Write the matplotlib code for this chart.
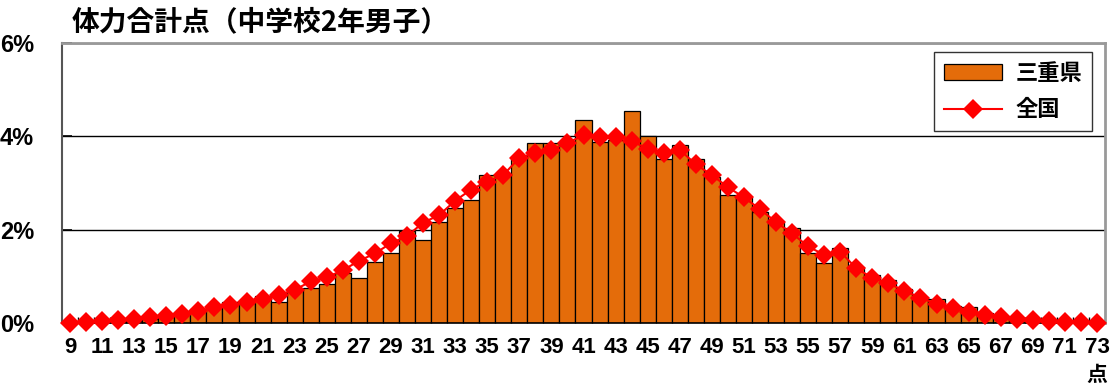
import matplotlib
matplotlib.use("Agg")
import matplotlib.pyplot as plt
from matplotlib.lines import Line2D
from matplotlib.patches import Patch

plt.rcParams['font.family'] = ['Noto Sans CJK JP', 'DejaVu Sans']

title = "体力合計点（中学校2年男子）"
scores = list(range(9, 74))
mie = [0.0, 0.01, 0.02, 0.03, 0.05, 0.08, 0.12, 0.23, 0.29, 0.33, 0.44, 0.43, 0.58, 0.46, 0.72, 0.74,
       0.83, 1.08, 0.97, 1.31, 1.51, 1.97, 1.77, 2.17, 2.46, 2.64, 3.17, 3.15, 3.56, 3.86, 3.85,
       3.85, 4.35, 3.88, 3.92, 4.55, 4.0, 3.51, 3.81, 3.51, 3.12, 2.74, 2.71, 2.38, 2.17, 2.04,
       1.49, 1.28, 1.60, 1.21, 1.03, 0.92, 0.72, 0.56, 0.51, 0.36, 0.35, 0.21, 0.12, 0.08, 0.06,
       0.05, 0.03, 0.02, 0.01]
zenkoku = [0.0, 0.02, 0.05, 0.06, 0.08, 0.13, 0.16, 0.2, 0.25, 0.34, 0.38, 0.44, 0.51, 0.6, 0.71, 0.89,
           0.98, 1.13, 1.33, 1.49, 1.71, 1.86, 2.15, 2.31, 2.62, 2.86, 3.03, 3.17, 3.54, 3.64, 3.71,
           3.86, 4.02, 3.99, 3.99, 3.91, 3.72, 3.65, 3.71, 3.40, 3.17, 2.91, 2.69, 2.44, 2.16, 1.92,
           1.64, 1.46, 1.53, 1.17, 0.97, 0.85, 0.69, 0.54, 0.41, 0.33, 0.24, 0.17, 0.12, 0.08, 0.06,
           0.04, 0.03, 0.02, 0.01]
yticks = [0, 2, 4, 6]
ytick_labels = ["0%", "2%", "4%", "6%"]
legend_labels = ["三重県", "全国"]
unit_label = "点"

NUM_FONT = ['Liberation Sans Narrow', 'Liberation Sans', 'DejaVu Sans']

W, H = 1115, 387
fig = plt.figure(figsize=(W / 100, H / 100), dpi=100)
ax = fig.add_axes([62 / W, 1 - 323 / H, (1105 - 62) / W, (323 - 43) / H])

pos = list(range(len(scores)))
ax.bar(pos, mie, width=1.0, color='#E46C0A', edgecolor='black', linewidth=0.9, zorder=2)
ax.plot(pos, zenkoku, color='#FF0000', linewidth=1.5, marker='D', markersize=10,
        markeredgewidth=0, zorder=3, clip_on=False)

ax.set_xlim(-0.5, len(scores) - 0.5)
ax.set_ylim(0, 6)
ax.set_yticks(yticks)
ax.set_yticklabels(ytick_labels, family=NUM_FONT, fontweight='bold', fontsize=17)
for y in yticks[1:]:
    ax.axhline(y, color='black', linewidth=1.0, zorder=1)

ax.set_xticks(pos[::2])
ax.set_xticklabels([str(s) for s in scores[::2]], family=NUM_FONT, fontweight='bold', fontsize=16)
ax.set_xticks([p + 0.5 for p in pos[:-1]], minor=True)
ax.tick_params(axis='x', which='major', length=0, pad=10)
ax.tick_params(axis='x', which='minor', length=4, direction='in', width=1, color='black')
ax.tick_params(axis='y', length=7, direction='in', width=1.2, color='black', pad=20)

for side in ['top', 'right']:
    ax.spines[side].set_color('#999999')
    ax.spines[side].set_linewidth(2)
ax.spines['left'].set_color('#555555')
ax.spines['left'].set_linewidth(1.5)
ax.spines['bottom'].set_color('black')
ax.spines['bottom'].set_linewidth(1.2)

ax.text(pos[-1], -1.1, unit_label, transform=ax.transData, ha='center', va='center',
        fontsize=15, fontweight='bold')

fig.text(72 / W, 1 - 22 / H, title, fontsize=20, fontweight='bold', va='center', ha='left')

handles = [Patch(facecolor='#E46C0A', edgecolor='black', linewidth=0.9),
           Line2D([0], [0], color='#FF0000', linewidth=1.5, marker='D', markersize=10, markeredgewidth=0)]
leg = ax.legend(handles, legend_labels, loc='upper right', bbox_to_anchor=(0.9875, 0.968),
                borderaxespad=0.0, frameon=True, fancybox=False, edgecolor='black',
                prop={'weight': 'bold', 'size': 16}, handlelength=2.6, borderpad=0.45,
                labelspacing=0.6, handletextpad=0.6)
leg.get_frame().set_linewidth(1.0)

fig.savefig("out.png", dpi=100)
